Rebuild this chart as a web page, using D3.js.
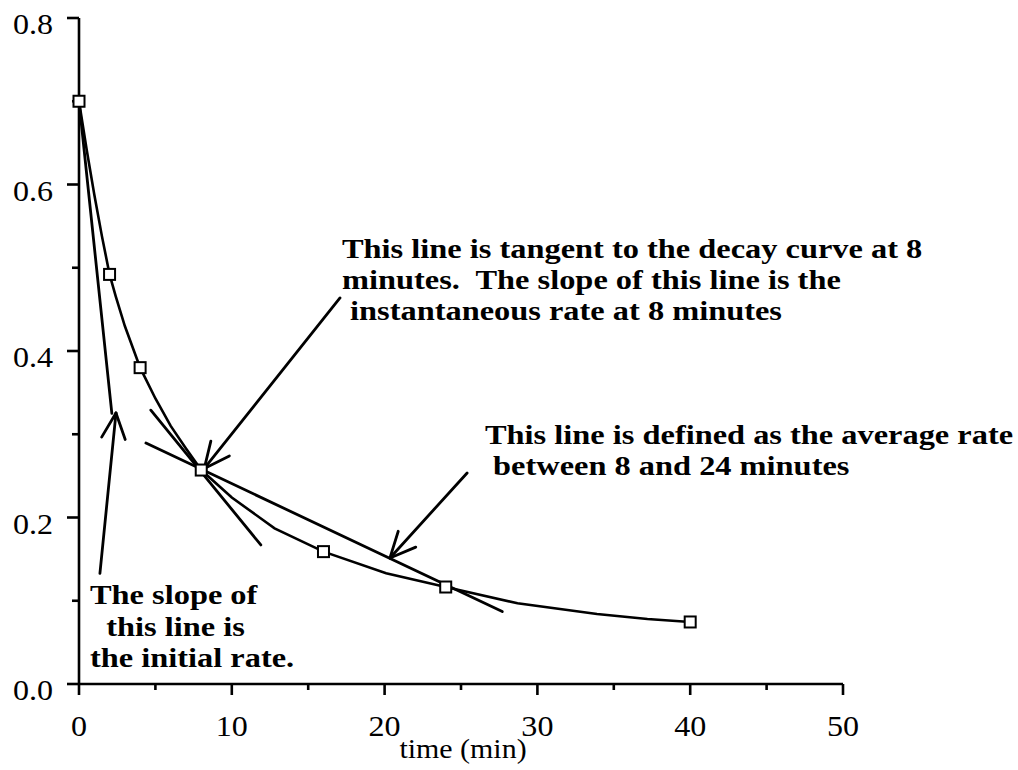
<!DOCTYPE html>
<html>
<head>
<meta charset="utf-8">
<script src="https://cdn.jsdelivr.net/npm/d3@7"></script>
<style>
  body { margin: 0; background: #fff; }
  svg { display: block; }
  text { font-family: "Liberation Serif", "Times New Roman", serif; fill: #000; white-space: pre; }
</style>
</head>
<body>
<svg id="chart" width="1018" height="770"></svg>
<script>
// measured samples (time in min, concentration)
var sampleTime = [0, 2, 4, 8, 16, 24, 40];
var sampleConc = [0.700, 0.492, 0.380, 0.257, 0.159, 0.1165, 0.0745];

// the decay curve as drawn
var curveTime = [0, 0.5, 1, 1.5, 2, 2.4, 3, 4, 5, 6, 7, 8, 10, 12.8, 16, 20.1, 24, 28.7, 33.9, 37.2, 40];
var curveConc = [0.700, 0.642, 0.588, 0.538, 0.492, 0.466, 0.430, 0.380, 0.343, 0.310, 0.283, 0.257, 0.224, 0.187, 0.159, 0.133, 0.1165, 0.097, 0.084, 0.078, 0.0745];

// straight lines: initial rate, tangent at 8 min, average 8-24 min  [t1, c1, t2, c2]
var initialLine = [0, 0.700, 2.15, 0.325];
var tangentLine = [4.7, 0.329, 11.9, 0.167];
var averageLine = [4.38, 0.2895, 27.7, 0.087];

// annotation arrows, [fromT, fromC, tipT, tipC]
var arrowInitial = [1.37, 0.133, 2.42, 0.3255];
var arrowTangent = [17.08, 0.4637, 8.2, 0.259];
var arrowAverage = [25.4, 0.2535, 20.35, 0.1514];

var xMajor = [0, 10, 20, 30, 40, 50];
var xMinor = [5, 15, 25, 35, 45];
var yMajor = [0, 0.2, 0.4, 0.6, 0.8];
var yMinor = [0.1, 0.3, 0.5, 0.7];

var noteTangent = ["This line is tangent to the decay curve at 8",
                   "minutes.  The slope of this line is the",
                   " instantaneous rate at 8 minutes"];
var noteAverage = ["This line is defined as the average rate",
                   " between 8 and 24 minutes"];
var noteInitial = ["The slope of", "  this line is", "the initial rate."];

var svg = d3.select("#chart");

var x = d3.scaleLinear().domain([0, 50]).range([79, 843]);
var y = d3.scaleLinear().domain([0, 0.8]).range([684, 18]);

// text in the picture is stretched sideways, sx is that stretch
function label(g, px, py, str, size, weight, anchor, sx) {
  return g.append("text")
    .attr("transform", "translate(" + px + "," + py + ") scale(" + sx + ",1)")
    .attr("font-size", size)
    .attr("font-weight", weight)
    .attr("text-anchor", anchor)
    .text(str);
}

// axes
var axes = svg.append("g").attr("stroke", "#000").attr("stroke-width", 2.6);
axes.append("line").attr("x1", x(0)).attr("x2", x(50)).attr("y1", y(0)).attr("y2", y(0));
axes.append("line").attr("x1", x(0)).attr("x2", x(0)).attr("y1", y(0)).attr("y2", y(0.8));
axes.selectAll(".xt").data(xMajor).enter().append("line")
  .attr("x1", x).attr("x2", x).attr("y1", y(0)).attr("y2", y(0) + 11);
axes.selectAll(".xm").data(xMinor).enter().append("line")
  .attr("x1", x).attr("x2", x).attr("y1", y(0)).attr("y2", y(0) + 6);
axes.selectAll(".yt").data(yMajor).enter().append("line")
  .attr("x1", x(0) - 12).attr("x2", x(0)).attr("y1", y).attr("y2", y);
axes.selectAll(".ym").data(yMinor).enter().append("line")
  .attr("x1", x(0) - 7).attr("x2", x(0)).attr("y1", y).attr("y2", y);

var labels = svg.append("g");
xMajor.forEach(function(d) { label(labels, x(d), y(0) + 52, String(d), 30, "normal", "middle", 1.07); });
yMajor.forEach(function(d) { label(labels, x(0) - 26, y(d) + 16, d.toFixed(1), 30, "normal", "end", 1.07); });
label(labels, 463, 758, "time (min)", 28, "normal", "middle", 1.07);

// decay curve
var pts = curveTime.map(function(t, i) { return [t, curveConc[i]]; });
var line = d3.line().x(function(d) { return x(d[0]); }).y(function(d) { return y(d[1]); });
svg.append("path").datum(pts).attr("d", line)
  .attr("fill", "none").attr("stroke", "#000").attr("stroke-width", 2.6);

// rate lines
[initialLine, tangentLine, averageLine].forEach(function(l) {
  svg.append("line")
    .attr("x1", x(l[0])).attr("y1", y(l[1])).attr("x2", x(l[2])).attr("y2", y(l[3]))
    .attr("stroke", "#000").attr("stroke-width", 2.8).attr("stroke-linecap", "round");
});

// arrows
function arrow(a) {
  var x1 = x(a[0]), y1 = y(a[1]), x2 = x(a[2]), y2 = y(a[3]);
  var ang = Math.atan2(y1 - y2, x1 - x2), len = 28, spread = 25 * Math.PI / 180;
  var g = svg.append("g").attr("stroke", "#000").attr("stroke-width", 2.8).attr("stroke-linecap", "round");
  g.append("line").attr("x1", x1).attr("y1", y1).attr("x2", x2).attr("y2", y2);
  [-spread, spread].forEach(function(s) {
    g.append("line").attr("x1", x2).attr("y1", y2)
      .attr("x2", x2 + len * Math.cos(ang + s)).attr("y2", y2 + len * Math.sin(ang + s));
  });
}
arrow(arrowInitial);
arrow(arrowTangent);
arrow(arrowAverage);

// sample markers
svg.selectAll(".pt").data(sampleTime).enter().append("rect")
  .attr("x", function(d) { return x(d) - 5.5; })
  .attr("y", function(d, i) { return y(sampleConc[i]) - 5.5; })
  .attr("width", 11).attr("height", 11)
  .attr("fill", "#fff").attr("stroke", "#000").attr("stroke-width", 2);

// notes
var notes = svg.append("g");
noteTangent.forEach(function(s, i) { label(notes, 342, 258 + i * 31, s, 27, "bold", "start", 1.2); });
noteAverage.forEach(function(s, i) { label(notes, 485, 444 + i * 31, s, 27, "bold", "start", 1.2); });
noteInitial.forEach(function(s, i) { label(notes, 90, 604 + i * 31.5, s, 27, "bold", "start", 1.2); });
</script>
</body>
</html>
